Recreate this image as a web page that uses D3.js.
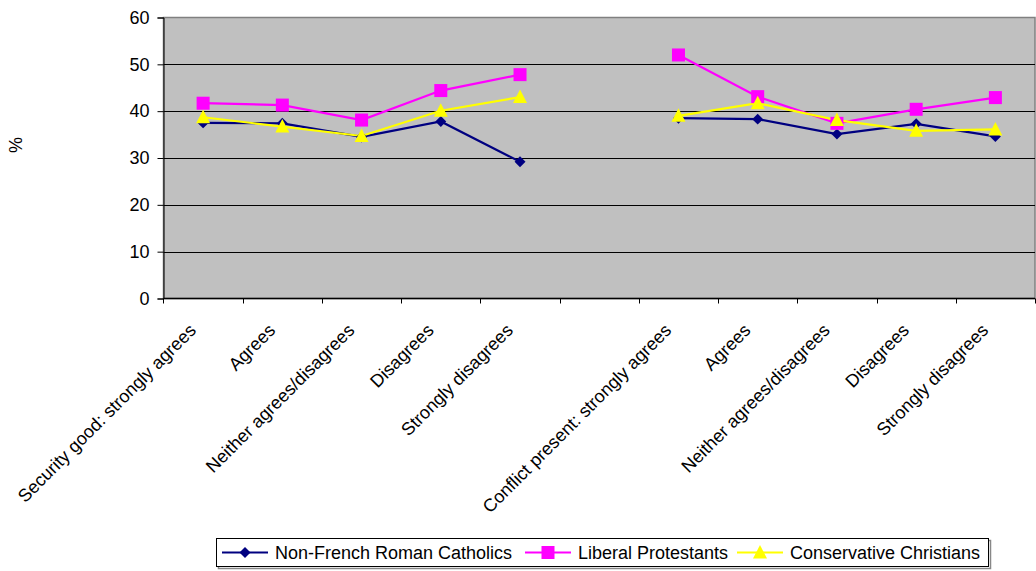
<!DOCTYPE html>
<html><head><meta charset="utf-8">
<script src="https://cdn.jsdelivr.net/npm/d3@7"></script>
<style>body{margin:0;background:#fff}svg{display:block;font-family:"Liberation Sans",Arial,sans-serif}</style>
</head><body><svg id="c" width="1036" height="571"></svg>
<script>
const categories = ["Security good: strongly agrees","Agrees","Neither agrees/disagrees","Disagrees","Strongly disagrees","","Conflict present: strongly agrees","Agrees","Neither agrees/disagrees","Disagrees","Strongly disagrees"];
const catholics = [37.5,37.4,34.5,37.8,29.2,null,38.5,38.3,35.1,37.3,34.6];
const liberals = [41.7,41.3,38.1,44.4,47.8,null,52.0,43.1,37.4,40.4,42.9];
const conservatives = [38.7,36.7,34.7,40.1,43.0,null,39.0,41.7,38.1,35.8,36.1];
const yTicks = [0,10,20,30,40,50,60];
const seriesNames = ["Non-French Roman Catholics","Liberal Protestants","Conservative Christians"];

const series = [
  {name:seriesNames[0], values:catholics, color:"#000080", shape:"diamond"},
  {name:seriesNames[1], values:liberals, color:"#FF00FF", shape:"square"},
  {name:seriesNames[2], values:conservatives, color:"#FFFF00", shape:"triangle"}
];

const svg = d3.select("#c");
const L=163.5, R=1035, T=17.5, B=298.5;
const x = d3.scaleBand().domain(d3.range(categories.length)).range([L,R]).padding(0);
const y = d3.scaleLinear().domain([0,60]).range([B,T]);

svg.append("rect").attr("x",L).attr("y",T).attr("width",R-L).attr("height",B-T).attr("fill","#C0C0C0").attr("stroke","#808080").attr("stroke-width",1.5);

// grid
svg.append("g").selectAll("line").data(yTicks.filter(d=>d>0 && d<60)).join("line")
  .attr("x1",L).attr("x2",R).attr("y1",d=>Math.round(y(d))+0.5).attr("y2",d=>Math.round(y(d))+0.5)
  .attr("stroke","#000").attr("stroke-width",1);

// y axis
const ya = svg.append("g").attr("transform",`translate(${L},0)`).call(d3.axisLeft(y).tickValues(yTicks).tickSize(6).tickPadding(8));
ya.select(".domain").attr("stroke","#000");
ya.selectAll("text").attr("font-size",18).attr("fill","#000").attr("font-family","Liberation Sans, Arial, sans-serif");
ya.selectAll(".tick line").attr("stroke","#000");

// x axis
const xa = svg.append("g").attr("transform",`translate(0,${B})`);
xa.append("line").attr("x1",L).attr("x2",R).attr("stroke","#000").attr("stroke-width",1.5);
const tickPos = d3.range(categories.length+1).map(i=> i<categories.length ? x(i) : R);
xa.selectAll(".t").data(tickPos).join("line").attr("class","t")
  .attr("x1",d=>Math.round(d)+0.5).attr("x2",d=>Math.round(d)+0.5).attr("y1",0).attr("y2",5).attr("stroke","#000");
xa.selectAll(".lbl").data(categories.map((c,i)=>({c,i}))).join("text").attr("class","lbl")
  .attr("transform",d=>`translate(${x(d.i)+x.bandwidth()/2-6},${33}) rotate(-45)`)
  .attr("text-anchor","end").attr("font-size",18).attr("fill","#000").text(d=>d.c);

// y label
svg.append("text").attr("transform","translate(22,145) rotate(-90)").attr("text-anchor","middle").attr("font-size",18).text("%");

const cx = i=> x(i)+x.bandwidth()/2;
function marker(g, shape, color){
  if(shape==="diamond") g.append("path").attr("d",d3.symbol(d3.symbolSquare,60)()).attr("transform","rotate(45)").attr("fill",color);
  else if(shape==="square") g.append("rect").attr("x",-6.5).attr("y",-6.5).attr("width",13).attr("height",13).attr("fill",color);
  else g.append("path").attr("d","M0,-7.5L7,6L-7,6Z").attr("fill",color);
}

series.forEach(s=>{
  const line = d3.line().defined(d=>d!=null).x((d,i)=>cx(i)).y(d=>y(d));
  svg.append("path").datum(s.values).attr("d",line).attr("fill","none").attr("stroke",s.color).attr("stroke-width",2.2);
});
series.forEach(s=>{
  s.values.forEach((v,i)=>{
    if(v==null) return;
    const g = svg.append("g").attr("transform",`translate(${cx(i)},${y(v)})`);
    marker(g,s.shape,s.color);
  });
});

// legend
const lg = svg.append("g");
lg.append("rect").attr("x",218.5).attr("y",540.5).attr("width",772).attr("height",28).attr("fill","none").attr("stroke","#888").attr("stroke-width",1.5);
lg.append("rect").attr("x",216.5).attr("y",538.5).attr("width",772).attr("height",28).attr("fill","#fff").attr("stroke","#000");
const legX = [222,525,737];
series.forEach((s,k)=>{
  const g = lg.append("g").attr("transform",`translate(${legX[k]},552.5)`);
  g.append("line").attr("x1",0).attr("x2",46).attr("stroke",s.color).attr("stroke-width",2.2);
  const m = g.append("g").attr("transform","translate(23,0)");
  marker(m,s.shape,s.color);
  g.append("text").attr("x",53).attr("y",6.5).attr("font-size",18).text(s.name);
});
</script></body></html>
